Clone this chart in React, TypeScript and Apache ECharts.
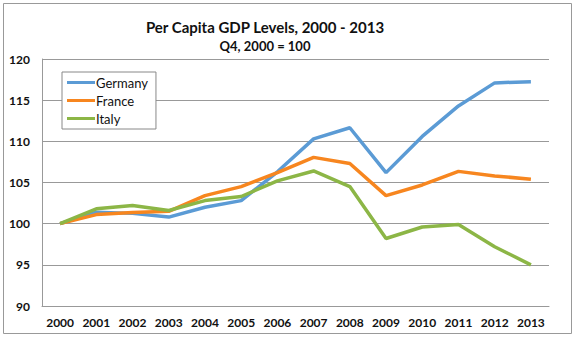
import React, { useEffect, useRef } from "react";
import * as echarts from "echarts";

const years = ["2000","2001","2002","2003","2004","2005","2006","2007","2008","2009","2010","2011","2012","2013"];
const germany = [100, 101.4, 101.25, 100.8, 102.0, 102.8, 106.3, 110.3, 111.65, 106.2, 110.6, 114.3, 117.1, 117.25];
const france = [100, 101.1, 101.35, 101.5, 103.4, 104.5, 106.2, 108.05, 107.3, 103.4, 104.7, 106.35, 105.8, 105.4];
const italy = [100, 101.8, 102.2, 101.6, 102.8, 103.3, 105.2, 106.4, 104.5, 98.2, 99.6, 99.9, 97.2, 95.0];

const FONT = "Lato, 'Open Sans', sans-serif";

export default function App() {
  const ref = useRef<HTMLDivElement>(null);
  useEffect(() => {
    const chart = echarts.init(ref.current!, null, { renderer: "svg" });
    const mk = (name: string, data: number[], color: string) => ({
      name,
      type: "line",
      data,
      symbol: "none",
      lineStyle: { width: 3.5, color },
      itemStyle: { color },
    });
    chart.setOption({
      animation: false,
      backgroundColor: "#fff",
      textStyle: { fontFamily: FONT },
      title: {
        text: "Per Capita GDP Levels, 2000 - 2013",
        subtext: "Q4, 2000 = 100",
        left: 260,
        textAlign: "center",
        top: 14,
        itemGap: 5,
        textStyle: { fontFamily: FONT, fontSize: 15, fontWeight: "bold", color: "#111" },
        subtextStyle: { fontFamily: FONT, fontSize: 13, fontWeight: "bold", color: "#111" },
      },
      legend: {
        orient: "vertical",
        left: 62,
        top: 72,
        padding: [4, 8, 4, 5],
        itemGap: 5,
        itemWidth: 28,
        itemHeight: 12,
        borderColor: "#888",
        borderWidth: 1,
        backgroundColor: "#fff",
        icon: "path://M0,5 L28,5 L28,8 L0,8 Z",
        textStyle: { fontFamily: FONT, fontSize: 13, color: "#111", padding: [0, 0, 0, -4] },
        data: ["Germany", "France", "Italy"],
      },
      grid: { left: 42, right: 27, top: 59, bottom: 33 },
      xAxis: {
        type: "category",
        data: years,
        boundaryGap: true,
        axisLine: { lineStyle: { color: "#999" } },
        axisTick: { show: false },
        axisLabel: { color: "#111", fontWeight: "bold", fontSize: 12, margin: 10, fontFamily: FONT },
      },
      yAxis: {
        type: "value",
        min: 90,
        max: 120,
        interval: 5,
        axisLine: { show: true, lineStyle: { color: "#999" } },
        axisTick: { show: false },
        splitLine: { lineStyle: { color: "#999", width: 1 } },
        axisLabel: { color: "#111", fontWeight: "bold", fontSize: 12, margin: 12, fontFamily: FONT },
      },
      graphic: [
        {
          type: "rect",
          shape: { x: 3.5, y: 3.5, width: 568, height: 330 },
          style: { fill: "none", stroke: "#999", lineWidth: 1 },
          silent: true,
          z: -10,
        },
      ],
      series: [
        mk("Germany", germany, "#5b9bd5"),
        mk("France", france, "#f7861f"),
        mk("Italy", italy, "#8cb646"),
      ],
    });
    return () => chart.dispose();
  }, []);
  return <div ref={ref} style={{ position: "fixed", left: 0, top: 0, width: 576, height: 339 }} />;
}
